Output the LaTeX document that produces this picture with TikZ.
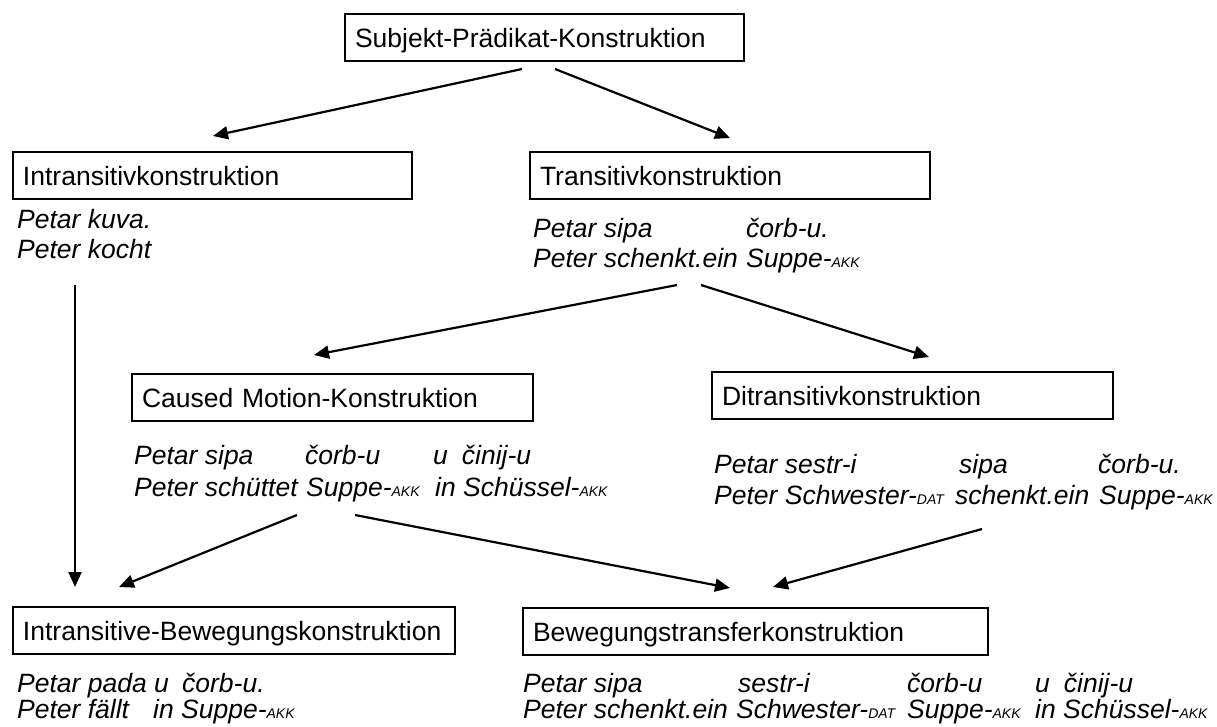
\documentclass[tikz,border=0pt]{standalone}
\usepackage{fontspec}
\setmainfont{Liberation Sans}
\usetikzlibrary{arrows.meta,calc}
% small caps-like case glosses (AKK, DAT)
\newcommand\gram[1]{{\fontsize{14}{14}\selectfont #1}}
% fixed-width column inside an example line
\newcommand\col[2]{\makebox[#1pt][l]{#2}}
\begin{document}
\begin{tikzpicture}[x=1pt,y=-1pt,
  box/.style={draw, line width=2pt, outer sep=0pt, anchor=north west,
    minimum height=47pt, inner xsep=10pt, inner ysep=0pt,
    text height=19pt, text depth=0pt, align=left,
    font=\fontsize{26.5}{30}\selectfont},
  ex/.style={anchor=base west, inner sep=0pt,
    font=\fontsize{26.5}{30}\selectfont\itshape},
  arr/.style={line width=2.2pt, -{Triangle[length=15pt,width=13pt]}}]
\useasboundingbox (0,0) rectangle (1217,726);

% construction boxes
\node[box, text width=379pt] (S)  at (345,14)  {Subjekt-Prädikat-Konstruktion};
\node[box, text width=379pt] (I)  at (13,152)  {Intransitivkonstruktion};
\node[box, text width=380pt] (T)  at (530,152) {Transitivkonstruktion};
\node[box, text width=381pt] (CM) at (132,374) {Caused Motion-Konstruktion};
\node[box, text width=381pt] (D)  at (712,372) {Ditransitivkonstruktion};
\node[box, text width=422pt] (IB) at (13,607)  {Intransitive-Bewegungskonstruktion};
\node[box, text width=445pt] (BT) at (523,608) {Bewegungstransferkonstruktion};

% example sentences
\node[ex] (I1) at (17,228) {Petar kuva.};
\node[ex] (I2) at (17,258) {Peter kocht};

\node[ex] (T1) at (533,237) {\col{213}{Petar sipa}čorb-u.};
\node[ex] (T2) at (533,267) {\col{213}{Peter schenkt.ein}Suppe-\gram{AKK}};

\node[ex] (CM1) at (134,464) {\col{171}{Petar sipa}\col{128}{čorb-u}u\hspace{14pt}činij-u};
\node[ex] (CM2) at (134,496) {\col{172}{Peter schüttet}\col{129}{Suppe-\gram{AKK}}in Schüssel-\gram{AKK}};

\node[ex] (D1) at (714,473) {\col{245}{Petar sestr-i}\col{139}{sipa}čorb-u.};
\node[ex] (D2) at (714,504) {\col{241}{Peter Schwester-\gram{DAT}}\col{144}{schenkt.ein}Suppe-\gram{AKK}};

\node[ex] (IB1) at (17,692) {\col{165}{Petar pada u}čorb-u.};
\node[ex] (IB2) at (17,718) {\col{136}{Peter fällt}in Suppe-\gram{AKK}};

\node[ex] (BT1) at (523,692) {\col{215}{Petar sipa}\col{169}{sestr-i}\col{128}{čorb-u}u\hspace{14pt}činij-u};
\node[ex] (BT2) at (523,718) {\col{213}{Peter schenkt.ein}\col{171}{Schwester-\gram{DAT}}\col{128}{Suppe-\gram{AKK}}in Schüssel-\gram{AKK}};

% inheritance arrows
\draw[arr] ($(S.south west)+(177,8)$) -- ($(I.north west)+(200,-16)$);
\draw[arr] ($(S.south west)+(210,8)$) -- ($(T.north west)+(200,-14)$);
\draw[arr] ($(I2.base west)+(58,27)$) -- ($(IB.north west)+(62,-20)$);
\draw[arr] ($(T2.base west)+(144,18)$) -- ($(CM.north west)+(182,-19)$);
\draw[arr] ($(T2.base west)+(168,18)$) -- ($(D.north west)+(217,-15)$);
\draw[arr] ($(CM2.base west)+(163,19)$) -- ($(IB.north west)+(106,-20)$);
\draw[arr] ($(CM2.base west)+(221,19)$) -- ($(BT.north west)+(207,-20)$);
\draw[arr] ($(D2.base west)+(268,25)$) -- ($(BT.north west)+(250,-21)$);
\end{tikzpicture}
\end{document}
